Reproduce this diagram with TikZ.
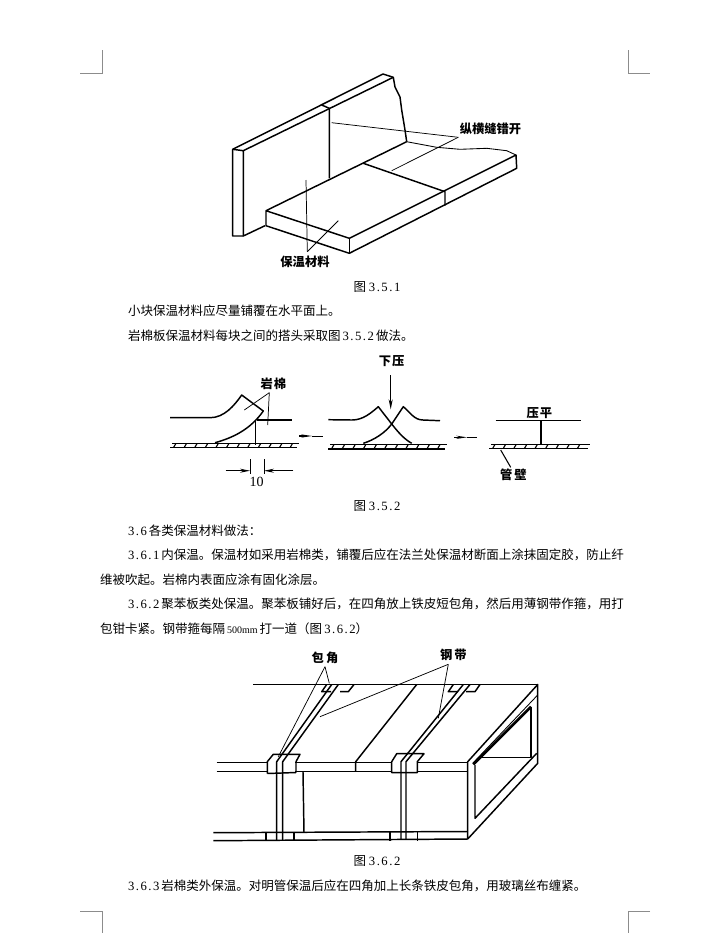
\documentclass[tikz,border=0pt]{standalone}
\usepackage{fontspec}
\setmainfont{Noto Sans CJK SC}
\newfontfamily\serifdigits{Liberation Serif}
\newfontfamily\spaceddigits[LetterSpace=12]{Liberation Serif}
\usetikzlibrary{arrows.meta}
\newcommand{\dg}[1]{{\spaceddigits\fontsize{9.5pt}{12pt}\selectfont #1}}
\newcommand{\dgsmall}[1]{{\serifdigits\fontsize{7.5pt}{12pt}\selectfont #1}}
\newcommand{\wallhatch}[3]{% from x, to x, top y
    \draw[thickline] (#1+2,#3) -- (#2+2,#3);
    \draw[thickline] (#1,#3+4.3) -- (#2,#3+4.3);
    \pgfmathsetmacro{\xnext}{#1+10.6}
    \pgfmathsetmacro{\xlast}{#2-6}
    \foreach \xtick in {#1,\xnext,...,\xlast}
        \draw[hatchline] (\xtick+6,#3) -- (\xtick+3.5,#3+4.3);
}
\tikzset{
    every node/.style={inner sep=0pt,outer sep=0pt},
    bodytext/.style={anchor=west,font=\fontsize{9.375pt}{12pt}\selectfont},
    caption/.style={font=\fontsize{9.375pt}{12pt}\selectfont},
    figlabel/.style={font=\bfseries\fontsize{9.2pt}{11pt}\selectfont},
    thickline/.style={line width=1.1pt,line join=round},
    thinline/.style={line width=0.65pt,line join=round},
    hatchline/.style={line width=0.85pt},
    leader/.style={line width=0.55pt},
    cropmark/.style={line width=0.6pt,draw=black!45},
    arrowline/.style={line width=0.7pt,-{Stealth[length=7.5pt,width=3pt]}},
    steparrow/.style={line width=0.8pt,-{Stealth[length=8pt,width=2.4pt]}},
}

\begin{document}
\begin{tikzpicture}[x=0.75pt,y=-0.75pt]
    \useasboundingbox[fill=white] (0,0) rectangle (712,933);

    % crop marks
    \draw[cropmark] (102,50) -- (102,73) -- (80,73);
    \draw[cropmark] (628,50) -- (628,73) -- (650,73);
    \draw[cropmark] (80,911) -- (102,911) -- (102,933);
    \draw[cropmark] (650,911) -- (628,911) -- (628,933);

    % page text
    \node[caption] (capa) at (377,287) {图 \dg{3.5.1}};
    \node[bodytext] (lineA) at (128,311) {小块保温材料应尽量铺覆在水平面上。};
    \node[bodytext] (lineB) at (128,336) {岩棉板保温材料每块之间的搭头采取图\,\dg{3.5.2}\,做法。};
    \node[caption] (capb) at (377,506) {图 \dg{3.5.2}};
    \node[bodytext] (lineC) at (128,531) {\dg{3.6}\,各类保温材料做法：};
    \node[bodytext] (lineD) at (128,555) {\dg{3.6.1}\,内保温。保温材如采用岩棉类，铺覆后应在法兰处保温材断面上涂抹固定胶，防止纤};
    \node[bodytext] (lineE) at (100,580) {维被吹起。岩棉内表面应涂有固化涂层。};
    \node[bodytext] (lineF) at (128,604) {\dg{3.6.2}\,聚苯板类处保温。聚苯板铺好后，在四角放上铁皮短包角，然后用薄钢带作箍，用打};
    \node[bodytext] (lineG) at (100,629) {包钳卡紧。钢带箍每隔\,\dgsmall{500mm}\,打一道（图\,\dg{3.6.2}）};
    \node[caption] (capc) at (377,861) {图 \dg{3.6.2}};
    \node[bodytext] (lineH) at (128,886) {\dg{3.6.3}\,岩棉类外保温。对明管保温后应在四角加上长条铁皮包角，用玻璃丝布缠紧。};

    % figure 3.5.1: wall
    \draw[thickline] (243.3,236) -- (232.7,236) -- (232.7,149.3) -- (383,74) -- (393.3,77.3)
        -- (395,87) -- (400,97) -- (401.7,110) -- (405,130) -- (406.7,141.7);
    \draw[thickline] (232.7,149.3) -- (243.3,150.7) -- (243.3,236) -- (265,225.7);
    \draw[thickline] (243.3,150.7) -- (393.3,77.3);
    \draw[thickline] (321.7,105) -- (329.3,108.3) -- (329.3,178.3);
    % figure 3.5.1: slab
    \draw[thickline] (406.7,141.7) -- (266,210.7) -- (349.3,238.3) -- (516,155) -- (516.7,168.3)
        -- (349.3,253.3) -- (266,225.7) -- (266,210.7);
    \draw[thickline] (349.3,238.3) -- (349.3,253.3);
    \draw[thinline] (406.7,141.7) -- (436.7,147.3) -- (460,149.3) -- (486.7,148.3) -- (506.7,150.7) -- (516,155);
    \draw[thickline] (363.3,163.3) -- (445,191.7) -- (445,205.7);
    % figure 3.5.1: labels
    \node[figlabel] (seamlabel) at (490.5,129) {纵横缝错开};
    \coordinate (seamapex) at (458.3,137.3);
    \draw[leader] (seamapex) -- (331.7,122.7);
    \draw[leader] (seamapex) -- (391.7,170.7);
    \node[figlabel] (slablabel) at (305,261.7) {保温材料};
    \coordinate (slabapex) at (307.3,251.7);
    \draw[leader] (slabapex) -- (306,180);
    \draw[leader] (slabapex) -- (338.3,220.7);

    % figure 3.5.2: left step
    \wallhatch{170}{297}{443.3}
    \draw[thickline] (170,417.7) -- (210,417.7) .. controls (224,417.7) and (234,406) .. (241.7,395)
        -- (263.3,411) .. controls (250,430) and (232,438) .. (215,442.7);
    \draw[thickline] (256.7,420) -- (292.3,420);
    \draw[thickline] (255.7,420) -- (255.7,445);
    \node[figlabel] (woollabel) at (273.3,384) {岩\hspace{0.8pt}棉};
    \coordinate (woolapex) at (269.3,392.7);
    \draw[leader] (woolapex) -- (244.3,410);
    \draw[leader] (woolapex) -- (267.7,425);
    \draw[thinline] (250,459) -- (250,474);
    \draw[thinline] (264,459) -- (264,474);
    \draw[arrowline] (225.7,470.7) -- (250,470.7);
    \draw[arrowline] (293.3,470.7) -- (264,470.7);
    \node[font=\serifdigits\fontsize{10.5pt}{12pt}\selectfont] (gaplabel) at (256.7,482) {10};
    \draw[steparrow] (299.3,436) -- (312,436);
    \draw[thinline] (312,436) -- (323.3,436);

    % figure 3.5.2: middle step
    \wallhatch{328}{445}{444.6}
    \draw[thickline] (328.3,419.7) -- (352,420) .. controls (363,420) and (371,413) .. (378.3,406.7)
        -- (391.7,424) .. controls (398,432) and (404,439) .. (411.7,443.3);
    \draw[thickline] (363.3,443.3) .. controls (374,440) and (385,433) .. (391.7,424)
        -- (403.3,406.7) .. controls (410,412) and (414,420) .. (423,420) -- (440,420.7);
    \node[figlabel] (presslabel) at (391.7,361) {下\hspace{0.8pt}压};
    \coordinate (pressfrom) at (390.7,375);
    \coordinate (pressto) at (390.7,409.3);
    \draw[arrowline] (pressfrom) -- (pressto);
    \draw[steparrow] (454.3,437.3) -- (467,437.3);
    \draw[thinline] (467,437.3) -- (476.7,437.3);

    % figure 3.5.2: right step
    \wallhatch{489}{588}{444.4}
    \draw[thinline] (495.7,420.7) -- (581,420.7);
    \draw[thickline] (541,420.7) -- (541,444.4);
    \node[figlabel] (flatlabel) at (539.3,413) {压\hspace{0.8pt}平};
    \node[figlabel] (walllabel) at (513.3,474.8) {管\hspace{1.5pt}壁};
    \coordinate (wallapex) at (510.7,467.3);
    \draw[leader,line width=0.8pt] (wallapex) -- (500.7,450);

    % figure 3.6.2: front bands
    \draw[thickline] (216.7,762.7) -- (267.3,762.7) (295,762.7) -- (391.7,762.7) (417.3,762.7) -- (467.7,762.7);
    \draw[thickline] (216.7,771.7) -- (267.3,771.7) (295,771.7) -- (391.7,771.7) (417.3,771.7) -- (467.7,771.7);
    \draw[thickline] (213.3,832.7) -- (467.7,831.5);
    \draw[thickline] (213.3,840.7) -- (467.7,839);
    \draw[thickline] (266,832.7) -- (266,840.7);
    \draw[thickline] (294,832.7) -- (294,840.7);
    \draw[thickline] (390,832) -- (390,840.7);
    \draw[thickline] (417.3,832) -- (417.3,840.7);
    \draw[thickline] (303,771.7) -- (304,832.7);
    \draw[thickline] (355.7,771.7) -- (355.7,761.7) -- (416.7,684.5);
    % figure 3.6.2: back edge
    \draw[thickline] (253.3,684.5) -- (537.7,684.5);
    % figure 3.6.2: corner pieces
    \draw[thickline] (267.3,773.5) -- (267.3,761.7) -- (273.3,754.3) -- (300,754.3) -- (296,761.7) -- (296,772.5);
    \draw[thickline] (267.3,773.5) -- (296,772.5);
    \draw[thickline] (391.7,772.7) -- (391.7,761.7) -- (396.7,753.7) -- (424,753.7) -- (417.3,761.7) -- (417.3,772.7) -- cycle;
    \draw[thickline] (326.7,684.5) -- (321.7,691.7) -- (331,691.7);
    \draw[thickline] (340,691.7) -- (348.3,691.7) -- (354,684.5);
    \draw[thickline] (453.3,684.5) -- (448.3,691.7) -- (458,691.7);
    \draw[thickline] (466,691.7) -- (475,691.7) -- (480,684.5);
    % figure 3.6.2: steel straps
    \draw[thickline] (276.7,840.7) -- (276.7,761.7) -- (331.7,684.5);
    \draw[thickline] (282.7,840.7) -- (282.7,761.7) -- (338.3,684.5);
    \draw[thickline] (401,839) -- (401,761.7) -- (463.3,684.5);
    \draw[thickline] (406,839) -- (406,761.7) -- (470,684.5);
    % figure 3.6.2: box end
    \draw[thickline] (467.7,761.7) -- (537.7,684.5) -- (537.7,763.3) -- (467.7,839) -- (467.7,761.7);
    \draw[thinline] (473,763) -- (537.7,695);
    \draw[line width=2pt] (473.3,764.3) -- (531,706.7);
    \draw[thickline] (475,765) -- (475,818.3) -- (536.7,753.3);
    \draw[thickline] (531,706.7) -- (531,757.3) -- (480,757.3);

    % figure 3.6.2: labels
    \node[figlabel] (cornerlabel) at (325,658) {包\hspace{1.5pt}角};
    \coordinate (cornerapex) at (325,666.7);
    \draw[leader] (cornerapex) -- (329.3,683.3);
    \draw[leader] (cornerapex) -- (278.3,756.7);
    \node[figlabel] (straplabel) at (453.3,655) {钢\hspace{1.5pt}带};
    \coordinate (strapapex) at (448.3,664.3);
    \draw[leader] (strapapex) -- (438.3,718.3);
    \draw[leader] (strapapex) -- (320,716.7);
\end{tikzpicture}
\end{document}
